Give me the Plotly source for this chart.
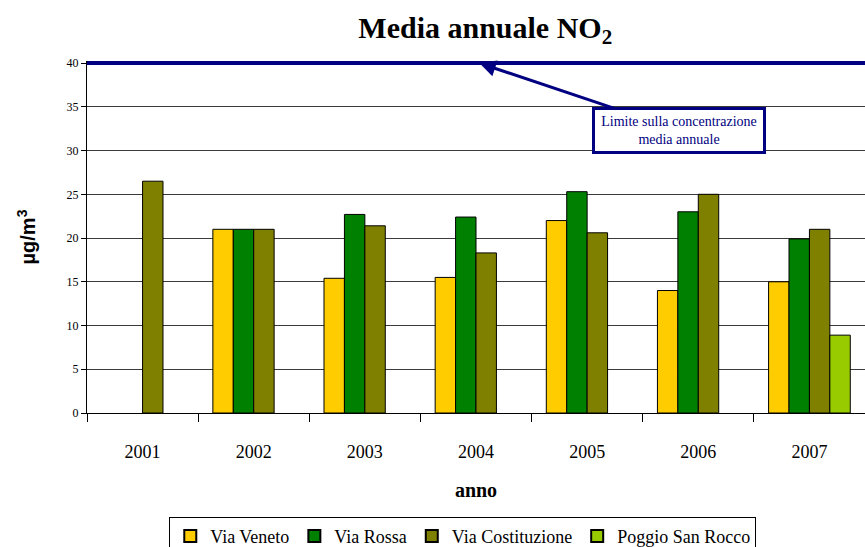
import plotly.graph_objects as go

# values (µg/m3)
anni = ["2001", "2002", "2003", "2004", "2005", "2006", "2007"]
via_veneto = [None, 21.0, 15.4, 15.5, 22.0, 14.0, 15.0]
via_rossa = [None, 21.0, 22.7, 22.4, 25.3, 23.0, 19.9]
via_costituzione = [26.5, 21.0, 21.4, 18.3, 20.6, 25.0, 21.0]
poggio_san_rocco = [None, None, None, None, None, None, 8.9]
limite = 40
y_ticks = [0, 5, 10, 15, 20, 25, 30, 35, 40]

serie = [
    ("Via Veneto", via_veneto, "#FFCC00"),
    ("Via Rossa", via_rossa, "#008000"),
    ("Via Costituzione", via_costituzione, "#808000"),
    ("Poggio San Rocco", poggio_san_rocco, "#99CC00"),
]

serif = "Liberation Serif, Times New Roman, serif"

fig = go.Figure()
for nome, valori, colore in serie:
    fig.add_trace(go.Bar(
        x=anni, y=valori, name=nome,
        marker=dict(color=colore, line=dict(color="black", width=1)),
    ))

# annual limit line
fig.add_hline(y=limite, line=dict(color="#000080", width=4), layer="above")

fig.add_annotation(
    x=3.03, y=limite, xref="x", yref="y",
    text="Limite sulla concentrazione<br>media annuale",
    font=dict(family=serif, size=14, color="#000080"),
    showarrow=True, arrowhead=2, arrowsize=1.1, arrowwidth=3,
    arrowcolor="#000080", ax=200, ay=67,
    bordercolor="#000080", borderwidth=3, borderpad=4,
    bgcolor="white", width=160,
)

fig.update_layout(
    width=865, height=547,
    margin=dict(l=87, r=0, t=61, b=134, autoexpand=False),
    paper_bgcolor="white", plot_bgcolor="white",
    barmode="group", bargap=0.265, bargroupgap=0,
    font=dict(family=serif, color="black"),
    title=dict(
        text="<b>Media annuale NO<sub>2</sub></b>",
        font=dict(family=serif, size=30, color="black"),
        x=0.561, xanchor="center", y=0.95, yanchor="middle",
    ),
    legend=dict(
        orientation="h", x=0.483, xanchor="center",
        yref="container", y=0.055, yanchor="top",
        font=dict(family=serif, size=18),
        bordercolor="black", borderwidth=1,
        itemsizing="constant", itemwidth=30, tracegroupgap=0,
    ),
)

fig.update_xaxes(
    type="category",
    showline=True, linecolor="black", linewidth=1,
    ticks="outside", tickson="boundaries", ticklen=8, tickcolor="black",
    tickfont=dict(family=serif, size=18),
    ticklabelstandoff=22,
    title=dict(text="<b>anno</b>", font=dict(family=serif, size=20), standoff=22),
    showgrid=False,
)

fig.update_yaxes(
    range=[0, limite * 1.006], tickvals=y_ticks,
    showline=True, linecolor="black", linewidth=1,
    ticks="outside", ticklen=5, tickcolor="black",
    tickfont=dict(family=serif, size=12),
    showgrid=True, gridcolor="#3a3a3a", gridwidth=1,
    zeroline=False,
    title=dict(text="<b>µg/m<sup>3</sup></b>",
               font=dict(family="Liberation Sans, Arial, sans-serif", size=20),
               standoff=25),
)

# drop the browser's default body margin so the figure sits at the page corner
fig.write_html("out.html", config={"displayModeBar": False},
               post_script="document.body.style.margin='0px';")
